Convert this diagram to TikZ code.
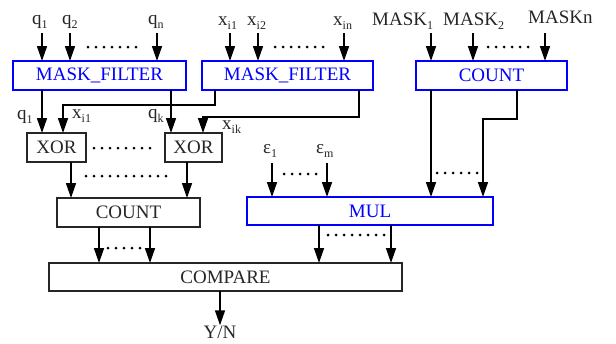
\documentclass[tikz,border=0pt]{standalone}
\usepackage{fontspec}
\setmainfont{Liberation Serif}
\usetikzlibrary{arrows.meta,calc}
\newcommand\lowidx[1]{\raisebox{-4pt}{\fontsize{12}{12}\selectfont #1}}
\tikzset{
  bluebox/.style={draw=blue, line width=1.8pt, text=blue, minimum height=29pt, inner sep=0pt, outer sep=0pt},
  blackbox/.style={draw=black!85, line width=1.2pt, text=black!85, minimum height=29pt, inner sep=0pt, outer sep=0pt},
  arr/.style={line width=1.5pt, -{Triangle[length=15pt,width=10pt]}},
  wire/.style={line width=1.5pt},
  dotline/.style={line width=3pt, line cap=round, dash pattern=on 0pt off 8pt},
  lbl/.style={inner sep=0pt, anchor=base west, text=black!85}
}
\begin{document}
\begin{tikzpicture}[x=1pt, y=-1pt, font=\fontsize{19}{22}\selectfont]
\useasboundingbox (0,0) rectangle (616,343);

% ---- boxes ----
\node[bluebox, minimum width=173pt] (mf1) at (99.5,75.5) {MASK\_FILTER};
\node[bluebox, minimum width=171pt] (mf2) at (287.5,75.5) {MASK\_FILTER};
\node[bluebox, minimum width=151pt] (cnt1) at (491.5,75.5) {COUNT};
\node[blackbox, minimum width=59pt] (xor1) at (56.5,147.5) {XOR};
\node[blackbox, minimum width=57pt] (xor2) at (193.5,147.5) {XOR};
\node[blackbox, minimum width=143pt] (cnt2) at (128.5,212.5) {COUNT};
\node[bluebox, minimum width=246pt, minimum height=28pt] (mul) at (370,211) {MUL};
\node[blackbox, minimum width=353pt, minimum height=28pt] (cmp) at (225.5,277) {COMPARE};

% ---- input labels ----
\node[lbl] (lq1) at (32,24) {q\lowidx{1}};
\node[lbl] (lq2) at (62,24) {q\lowidx{2}};
\node[lbl] (lqn) at (148,24) {q\lowidx{n}};
\node[lbl] (lx1) at (218,25) {x\lowidx{i1}};
\node[lbl] (lx2) at (247,25) {x\lowidx{i2}};
\node[lbl] (lxn) at (333,25) {x\lowidx{in}};
\node[lbl] (lm1) at (372,25) {MASK\lowidx{1}};
\node[lbl] (lm2) at (443,25) {MASK\lowidx{2}};
\node[lbl] (lmn) at (528,23) {MASKn};

% ---- input arrows into the top row ----
\foreach \n/\x in {q1/42, q2/70, qn/157}
  \draw[arr] (\x,33) coordinate (i\n) -- (i\n |- mf1.north);
\foreach \n/\x in {x1/230, x2/258, xn/344}
  \draw[arr] (\x,33) coordinate (i\n) -- (i\n |- mf2.north);
\foreach \n/\x in {m1/431, m2/473, mn/545}
  \draw[arr] (\x,33) coordinate (i\n) -- (i\n |- cnt1.north);
\draw[dotline] (88,47) -- (138,47);
\draw[dotline] (275,47) -- (327,47);
\draw[dotline] (488,47) -- (528,47);

% ---- filter outputs to the XOR gates ----
\coordinate (a1) at (42,0);
\coordinate (a2) at (171,0);
\coordinate (b1) at (215,105);
\coordinate (b2) at (63,105);
\coordinate (c1) at (359,117);
\coordinate (c2) at (203,117);
\draw[arr] (mf1.south -| a1) -- (xor1.north -| a1);
\draw[arr] (mf1.south -| a2) -- (xor2.north -| a2);
\draw[arr] (mf2.south -| b1) -- (b1) -- (b2) -- (xor1.north -| b2);
\draw[arr] (mf2.south -| c1) -- (c1) -- (c2) -- (xor2.north -| c2);
\node[lbl] (lq1b) at (17,119) {q\lowidx{1}};
\node[lbl] (lx1b) at (72,118) {x\lowidx{i1}};
\node[lbl] (lqk) at (148,118) {q\lowidx{k}};
\node[lbl] (lxk) at (222,129) {x\lowidx{ik}};
\draw[dotline] (94,148) -- (155,148);

% ---- XOR outputs to COUNT ----
\coordinate (d1) at (71,0);
\coordinate (d2) at (187,0);
\draw[arr] (xor1.south -| d1) -- (cnt2.north -| d1);
\draw[arr] (xor2.south -| d2) -- (cnt2.north -| d2);
\draw[dotline] (86,176) -- (172,176);

% ---- epsilon inputs and COUNT outputs into MUL ----
\node[lbl] (le1) at (263,153) {ε\lowidx{1}};
\node[lbl] (lem) at (316,153) {ε\lowidx{m}};
\draw[arr] (272,163) coordinate (e1) -- (e1 |- mul.north);
\draw[arr] (327,163) coordinate (em) -- (em |- mul.north);
\draw[dotline] (284,174) -- (316,174);
\coordinate (f1) at (431,0);
\coordinate (g1) at (517,119);
\coordinate (g2) at (483,119);
\draw[arr] (cnt1.south -| f1) -- (mul.north -| f1);
\draw[arr] (cnt1.south -| g1) -- (g1) -- (g2) -- (mul.north -| g2);
\draw[dotline] (437,173) -- (477,173);

% ---- into COMPARE ----
\coordinate (h1) at (99,0);
\coordinate (h2) at (150,0);
\coordinate (k1) at (319,0);
\coordinate (k2) at (391,0);
\draw[arr] (cnt2.south -| h1) -- (cmp.north -| h1);
\draw[arr] (cnt2.south -| h2) -- (cmp.north -| h2);
\draw[arr] (mul.south -| k1) -- (cmp.north -| k1);
\draw[arr] (mul.south -| k2) -- (cmp.north -| k2);
\draw[dotline] (108,248) -- (140,248);
\draw[dotline] (328,235) -- (384,235);

% ---- result ----
\node[lbl, anchor=base] (yn) at (220,338) {Y/N};
\draw[arr] (cmp.south -| yn) -- (yn.north);
\end{tikzpicture}
\end{document}
